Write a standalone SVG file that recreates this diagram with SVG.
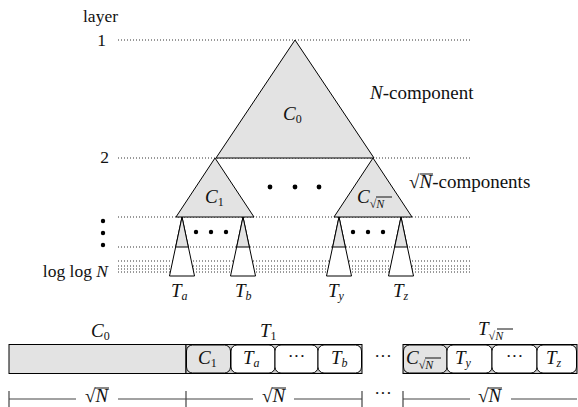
<svg xmlns="http://www.w3.org/2000/svg" width="578" height="407" viewBox="0 0 578 407" font-family="'Liberation Serif', 'DejaVu Serif', serif">
<style>
text{font-family:'Liberation Serif','DejaVu Serif',serif;fill:#111;}
.lbl{font-size:17.5px;}
.big{font-size:19px;}
.cal{font-size:19px;font-style:italic;}
.sub{font-size:12px;}
.it{font-style:italic;}
.dot{stroke:#333;stroke-width:1;stroke-dasharray:1 2;fill:none;}
.tri{fill:#e3e3e3;stroke:#000;stroke-width:1;stroke-linejoin:round;}
.wt{fill:#fff;stroke:#000;stroke-width:1;}
.box{fill:#fff;stroke:#000;stroke-width:1;}
.gbox{fill:#e3e3e3;stroke:#000;stroke-width:1;}
.dim{stroke:#444;stroke-width:1.2;fill:none;}
.ov{stroke:#111;stroke-width:1;}
</style>

<g id="layers">
<line class="dot" x1="118" y1="40" x2="470" y2="40"/>
<line class="dot" x1="118" y1="158" x2="470" y2="158"/>
<line class="dot" x1="118" y1="217" x2="470" y2="217"/>
<line class="dot" x1="118" y1="247" x2="470" y2="247"/>
<line class="dot" x1="118" y1="261" x2="470" y2="261"/>
<line class="dot" x1="118" y1="266" x2="470" y2="266"/>
<line class="dot" x1="118" y1="269" x2="470" y2="269"/>
<line class="dot" x1="118" y1="272" x2="470" y2="272"/>
</g>

<g id="layer-labels">
<text class="lbl" x="83" y="22">layer</text>
<text class="lbl" x="106" y="46" text-anchor="end">1</text>
<text class="lbl" x="109" y="163" text-anchor="end">2</text>
<circle cx="103" cy="221" r="2.2" fill="#000"/>
<circle cx="103" cy="233" r="2.2" fill="#000"/>
<circle cx="103" cy="245" r="2.2" fill="#000"/>
<text class="lbl" x="108" y="277" text-anchor="end">log log <tspan class="it">N</tspan></text>
</g>

<g id="C0">
<polygon class="tri" points="295,40 374,158 216,158"/>
<text class="cal" x="283" y="120">C<tspan class="sub" font-style="normal" dy="3">0</tspan></text>
</g>
<text class="big" x="370" y="99"><tspan class="it">N</tspan>-component</text>

<g id="C1">
<polygon class="tri" points="215,158 254,217 176,217"/>
<text class="cal" x="205" y="203">C<tspan class="sub" font-style="normal" dy="3">1</tspan></text>
</g>

<g id="CsqrtN">
<polygon class="tri" points="373,158 412,217 334,217"/>
<text class="cal" x="357" y="203">C<tspan class="sub" font-style="normal" dy="5">√<tspan class="it">N</tspan></tspan></text>
<line class="ov" x1="376" y1="197" x2="392" y2="197"/>
</g>
<g id="mid-dots">
<circle cx="270" cy="187" r="2.4" fill="#000"/>
<circle cx="295" cy="187" r="2.4" fill="#000"/>
<circle cx="319" cy="187" r="2.4" fill="#000"/>
</g>
<text class="big" x="409" y="188">√<tspan class="it">N</tspan>-components</text>
<line class="ov" x1="420" y1="174" x2="433" y2="174"/>

<g id="Ta">
<polygon class="wt" points="182,217 194.5,276 169.5,276"/>
<polygon class="tri" points="182,217 188.3,247 175.7,247"/>
<text class="cal" x="171" y="297">T<tspan class="sub" dy="3">a</tspan></text>
</g>
<g id="Tb">
<polygon class="wt" points="243,217 255.5,276 230.5,276"/>
<polygon class="tri" points="243,217 249.3,247 236.7,247"/>
<text class="cal" x="235" y="297">T<tspan class="sub" dy="3">b</tspan></text>
</g>
<g id="Ty">
<polygon class="wt" points="339,217 351.5,276 326.5,276"/>
<polygon class="tri" points="339,217 345.3,247 332.7,247"/>
<text class="cal" x="328" y="297">T<tspan class="sub" dy="3">y</tspan></text>
</g>
<g id="Tz">
<polygon class="wt" points="401,217 413.5,276 388.5,276"/>
<polygon class="tri" points="401,217 407.3,247 394.7,247"/>
<text class="cal" x="393" y="297">T<tspan class="sub" dy="3">z</tspan></text>
</g>
<g id="small-dots">
<circle cx="196" cy="232" r="2.2" fill="#000"/>
<circle cx="211" cy="232" r="2.2" fill="#000"/>
<circle cx="226" cy="232" r="2.2" fill="#000"/>
<circle cx="353" cy="232" r="2.2" fill="#000"/>
<circle cx="368" cy="232" r="2.2" fill="#000"/>
<circle cx="383" cy="232" r="2.2" fill="#000"/>
</g>

<g id="strip-C0">
<rect class="gbox" x="9" y="344.5" width="177" height="29"/>
<text class="cal" x="91" y="337">C<tspan class="sub" font-style="normal" dy="3">0</tspan></text>
</g>
<g id="strip-T1">
<rect x="186" y="344.5" width="176" height="29" fill="#c8c8c8" stroke="#000"/>
<rect class="gbox" x="186.5" y="345" width="44" height="28" rx="6"/>
<rect class="box" x="231" y="345" width="44" height="28" rx="6"/>
<rect class="box" x="275" y="345" width="43" height="28" rx="6"/>
<rect class="box" x="318" y="345" width="43.5" height="28" rx="6"/>
<text class="cal" x="198" y="364">C<tspan class="sub" font-style="normal" dy="3">1</tspan></text>
<text class="cal" x="243" y="364">T<tspan class="sub" dy="3">a</tspan></text>
<text class="lbl" x="296.5" y="362" text-anchor="middle" font-size="12">···</text>
<text class="cal" x="331" y="364">T<tspan class="sub" dy="3">b</tspan></text>
<text class="cal" x="260" y="337">T<tspan class="sub" font-style="normal" dy="3">1</tspan></text>
</g>
<text class="lbl" x="383" y="362" text-anchor="middle" font-size="12">···</text>
<g id="strip-TsqrtN">
<rect x="403" y="344.5" width="174" height="29" fill="#c8c8c8" stroke="#000"/>
<rect class="gbox" x="403.5" y="345" width="43.5" height="28" rx="6"/>
<rect class="box" x="447" y="345" width="45" height="28" rx="6"/>
<rect class="box" x="492" y="345" width="45" height="28" rx="6"/>
<rect class="box" x="537" y="345" width="39.5" height="28" rx="6"/>
<text class="cal" x="406" y="364">C<tspan class="sub" font-style="normal" dy="5">√<tspan class="it">N</tspan></tspan></text>
<line class="ov" x1="425" y1="358" x2="441" y2="358"/>
<text class="cal" x="455" y="364">T<tspan class="sub" dy="3">y</tspan></text>
<text class="lbl" x="514.5" y="362" text-anchor="middle" font-size="12">···</text>
<text class="cal" x="546" y="364">T<tspan class="sub" dy="3">z</tspan></text>
<text class="cal" x="478" y="335">T<tspan class="sub" font-style="normal" dy="5">√<tspan class="it">N</tspan></tspan></text>
<line class="ov" x1="497" y1="329" x2="513" y2="329"/>
</g>

<g id="dimensions">
<line class="dim" x1="9" y1="391" x2="9" y2="407"/>
<line class="dim" x1="186" y1="391" x2="186" y2="407"/>
<line class="dim" x1="362" y1="391" x2="362" y2="407"/>
<line class="dim" x1="403" y1="391" x2="403" y2="407"/>
<line class="dim" x1="9" y1="399" x2="76" y2="399"/>
<line class="dim" x1="118" y1="399" x2="186" y2="399"/>
<line class="dim" x1="186" y1="399" x2="253" y2="399"/>
<line class="dim" x1="294" y1="399" x2="362" y2="399"/>
<line class="dim" x1="403" y1="399" x2="470" y2="399"/>
<line class="dim" x1="511" y1="399" x2="577" y2="399"/>
<text class="big" x="85" y="402">√<tspan class="it">N</tspan></text>
<line class="ov" x1="95" y1="388" x2="109" y2="388"/>
<text class="big" x="262" y="402">√<tspan class="it">N</tspan></text>
<line class="ov" x1="272" y1="388" x2="286" y2="388"/>
<text class="big" x="478" y="402">√<tspan class="it">N</tspan></text>
<line class="ov" x1="488" y1="388" x2="502" y2="388"/>
<text class="lbl" x="383" y="399" text-anchor="middle" font-size="12">···</text>
</g>
</svg>
